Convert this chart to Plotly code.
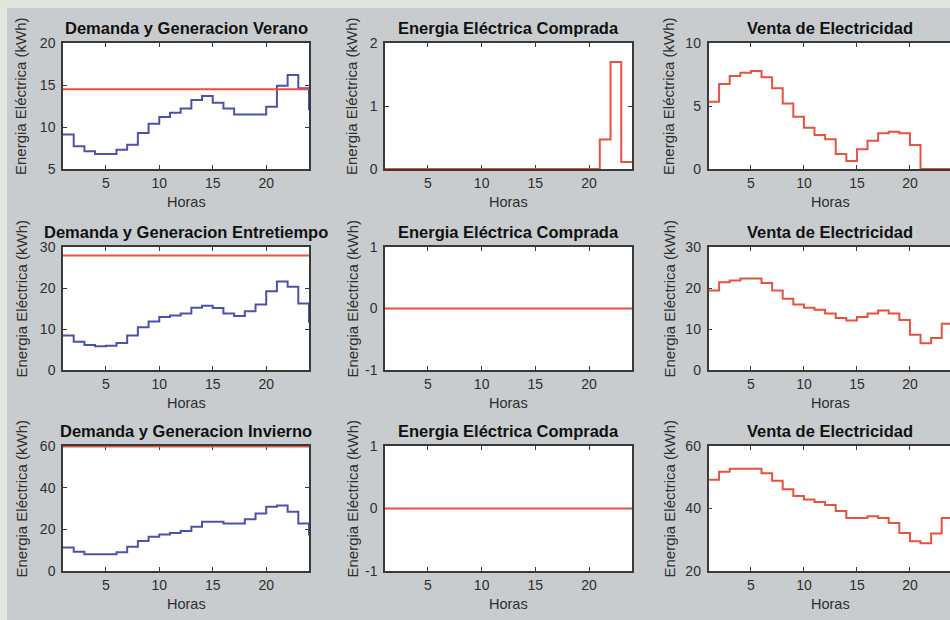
import plotly.graph_objects as go

# ---------------- data ----------------
horas = list(range(1, 25))

dem_verano = [9.1, 7.7, 7.1, 6.8, 6.8, 7.3, 7.9, 9.3, 10.4, 11.2, 11.7, 12.2,
              13.2, 13.7, 12.9, 12.2, 11.5, 11.5, 11.5, 12.4, 14.9, 16.2, 14.6, 12.0]
gen_verano = [14.5, 14.5, 14.5, 14.5, 14.5, 14.5, 14.5, 14.5, 14.5, 14.5, 14.5, 14.5,
              14.5, 14.5, 14.5, 14.5, 14.5, 14.5, 14.5, 14.5, 14.5, 14.5, 14.5, 14.5]
compra_verano = [0, 0, 0, 0, 0, 0, 0, 0, 0, 0, 0, 0,
                 0, 0, 0, 0, 0, 0, 0, 0, 0.47, 1.70, 0.11, 0.11]
venta_verano = [5.34, 6.75, 7.38, 7.64, 7.78, 7.28, 6.4, 5.2, 4.15, 3.28, 2.7, 2.36,
                1.19, 0.63, 1.56, 2.25, 2.83, 2.96, 2.83, 1.9, 0, 0, 0, 0]

dem_entre = [8.4, 6.9, 6.1, 5.8, 5.9, 6.6, 8.4, 10.4, 11.8, 12.9, 13.3, 13.8,
             15.2, 15.7, 15.1, 13.8, 13.2, 14.3, 16.0, 19.2, 21.6, 20.3, 16.2, 11.5]
gen_entre = [27.9, 27.9, 27.9, 27.9, 27.9, 27.9, 27.9, 27.9, 27.9, 27.9, 27.9, 27.9,
             27.9, 27.9, 27.9, 27.9, 27.9, 27.9, 27.9, 27.9, 27.9, 27.9, 27.9, 27.9]
compra_entre = [0, 0, 0, 0, 0, 0, 0, 0, 0, 0, 0, 0,
                0, 0, 0, 0, 0, 0, 0, 0, 0, 0, 0, 0]
venta_entre = [19.4, 21.4, 21.8, 22.3, 22.3, 21.2, 19.4, 17.4, 16.0, 15.2, 14.7, 13.8,
               12.7, 12.1, 12.9, 13.8, 14.5, 13.8, 12.2, 8.6, 6.5, 7.8, 11.3, 11.3]

dem_invierno = [11.3, 9.2, 8.0, 8.0, 8.0, 9.0, 11.6, 14.4, 16.4, 17.5, 18.3, 19.2,
                21.2, 23.6, 23.6, 22.8, 22.8, 24.9, 27.6, 30.8, 31.5, 28.4, 22.8, 17.0]
gen_invierno = [59.7, 59.7, 59.7, 59.7, 59.7, 59.7, 59.7, 59.7, 59.7, 59.7, 59.7, 59.7,
                59.7, 59.7, 59.7, 59.7, 59.7, 59.7, 59.7, 59.7, 59.7, 59.7, 59.7, 59.7]
compra_invierno = [0, 0, 0, 0, 0, 0, 0, 0, 0, 0, 0, 0,
                   0, 0, 0, 0, 0, 0, 0, 0, 0, 0, 0, 0]
venta_invierno = [49.2, 51.8, 52.7, 52.7, 52.7, 51.3, 48.9, 46.2, 44.0, 42.9, 42.1, 41.1,
                  39.2, 37.0, 37.0, 37.5, 37.0, 35.4, 32.2, 29.5, 28.9, 32.0, 37.0, 37.0]

titulos_demanda = ["Demanda y Generacion Verano",
                   "Demanda y Generacion Entretiempo",
                   "Demanda y Generacion Invierno"]
titulo_compra = "Energia Eléctrica Comprada"
titulo_venta = "Venta de Electricidad"
etiqueta_y = "Energia Eléctrica (kWh)"
etiqueta_x = "Horas"

x_ticks = [5, 10, 15, 20]
y_ticks = [
    [[5, 10, 15, 20], [0, 1, 2], [0, 5, 10]],
    [[0, 10, 20, 30], [-1, 0, 1], [0, 10, 20, 30]],
    [[0, 20, 40, 60], [-1, 0, 1], [20, 40, 60]],
]
y_ranges = [
    [[5, 20], [0, 2], [0, 10]],
    [[0, 30], [-1, 1], [0, 30]],
    [[0, 60], [-1, 1], [20, 60]],
]

# ---------------- layout constants ----------------
W, H = 950, 620
col_px = [(63, 309), (385, 632), (708.5, 950)]
row_px = [(43, 169), (247, 370), (446, 571)]
x_ranges = [[1, 24], [1, 24], [1, 23.78]]
ylab_x = [21, 352, 669]

BLUE = "#4d51ad"
RED = "#e8523f"
AXC = "#3a3a3a"
TXT = "#2e2e2e"
FONT = "Liberation Sans"

fig = go.Figure()

series = [
    [[(dem_verano, BLUE), (gen_verano, RED)], [(compra_verano, RED)], [(venta_verano, RED)]],
    [[(dem_entre, BLUE), (gen_entre, RED)], [(compra_entre, RED)], [(venta_entre, RED)]],
    [[(dem_invierno, BLUE), (gen_invierno, RED)], [(compra_invierno, RED)], [(venta_invierno, RED)]],
]

annotations = []
layout_axes = {}
for r in range(3):
    for c in range(3):
        k = r * 3 + c + 1
        xa = "x" if k == 1 else f"x{k}"
        ya = "y" if k == 1 else f"y{k}"
        for vals, col in series[r][c]:
            fig.add_trace(go.Scatter(x=horas, y=vals, xaxis=xa, yaxis=ya,
                                     mode="lines", line=dict(color=col, width=2, shape="hv"),
                                     showlegend=False, hoverinfo="skip"))
        x0, x1 = col_px[c]
        y0, y1 = row_px[r]
        layout_axes[f"xaxis{'' if k == 1 else k}"] = dict(
            domain=[x0 / W, x1 / W], anchor=ya, range=x_ranges[c], automargin=False,
            tickvals=x_ticks, ticktext=[str(v) for v in x_ticks],
            ticks="inside", ticklen=4, tickcolor=AXC, tickwidth=1,
            showline=True, linecolor=AXC, linewidth=1.5, mirror="ticks",
            showgrid=False, zeroline=False, layer="below traces",
            tickfont=dict(family=FONT, size=14, color=TXT))
        layout_axes[f"yaxis{'' if k == 1 else k}"] = dict(
            domain=[1 - y1 / H, 1 - y0 / H], anchor=xa, range=y_ranges[r][c], automargin=False,
            tickvals=y_ticks[r][c], ticktext=[str(v) for v in y_ticks[r][c]],
            ticks="inside", ticklen=4, tickcolor=AXC, tickwidth=1,
            showline=True, linecolor=AXC, linewidth=1.5,
            mirror=("ticks" if c < 2 else False), ticklabelstandoff=3,
            showgrid=False, zeroline=False, layer="below traces",
            tickfont=dict(family=FONT, size=14, color=TXT))
        title = titulos_demanda[r] if c == 0 else (titulo_compra if c == 1 else titulo_venta)
        cx = (x0 + x1) / 2 if c < 2 else (x0 + 952) / 2
        annotations.append(dict(text=f"<b>{title}</b>", x=cx / W, y=1 - (y0 - 15) / H,
                                xref="paper", yref="paper", showarrow=False,
                                xanchor="center", yanchor="middle",
                                font=dict(family=FONT, size=16.5, color="#111111")))
        annotations.append(dict(text=etiqueta_x, x=cx / W, y=1 - (y1 + 33) / H,
                                xref="paper", yref="paper", showarrow=False,
                                xanchor="center", yanchor="middle",
                                font=dict(family=FONT, size=14.5, color=TXT)))
        annotations.append(dict(text=etiqueta_y, x=ylab_x[c] / W,
                                y=1 - ((y0 + y1) / 2 - 10) / H,
                                xref="paper", yref="paper", showarrow=False, textangle=-90,
                                xanchor="center", yanchor="middle",
                                font=dict(family=FONT, size=15, color=TXT)))

shapes = [
    dict(type="rect", xref="paper", yref="paper", x0=0, x1=1, y0=1 - 8 / H, y1=1,
         fillcolor="#e1e6df", line=dict(width=0), layer="below"),
    dict(type="rect", xref="paper", yref="paper", x0=0, x1=7 / W, y0=0, y1=1,
         fillcolor="#e1e6df", line=dict(width=0), layer="below"),
]

fig.update_layout(template="none", width=W, height=H,
                  margin=dict(l=0, r=0, t=0, b=0, autoexpand=False),
                  paper_bgcolor="#c8ccce", plot_bgcolor="white",
                  annotations=annotations, shapes=shapes, **layout_axes)

fig.write_html("out.html", config={"displayModeBar": False},
               post_script="document.body.style.margin='0';document.body.style.overflow='hidden';")
